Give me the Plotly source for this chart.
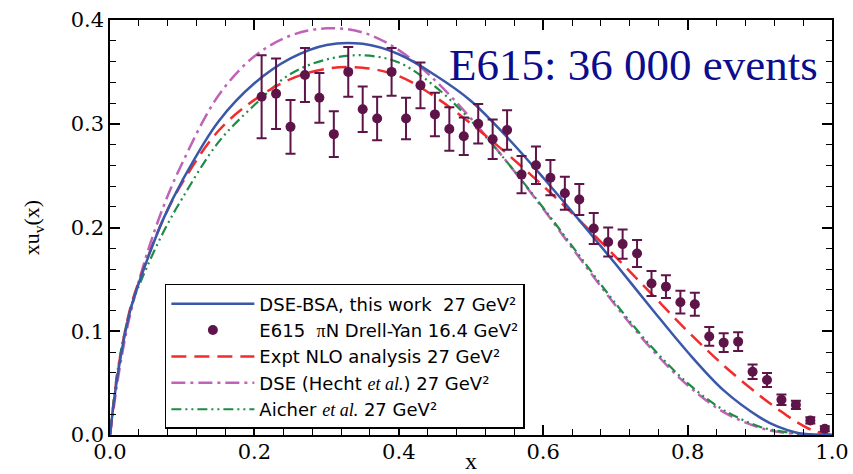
import plotly.graph_objects as go

# ---- E615 data points ----
x_data = [0.21, 0.23, 0.25, 0.27, 0.29, 0.31, 0.33, 0.35, 0.37, 0.39,
          0.41, 0.43, 0.45, 0.47, 0.49, 0.51, 0.53, 0.55, 0.57, 0.59,
          0.61, 0.63, 0.65, 0.67, 0.69, 0.71, 0.73, 0.75, 0.77, 0.79,
          0.81, 0.83, 0.85, 0.87, 0.89, 0.91, 0.93, 0.95, 0.97, 0.99]
y_data = [0.326, 0.329, 0.297, 0.347, 0.325, 0.290, 0.350, 0.314, 0.305, 0.350,
          0.305, 0.337, 0.309, 0.295, 0.288, 0.300, 0.285, 0.294, 0.251, 0.260,
          0.248, 0.233, 0.227, 0.199, 0.186, 0.184, 0.175, 0.146, 0.143, 0.128,
          0.126, 0.095, 0.089, 0.090, 0.061, 0.053, 0.034, 0.029, 0.014, 0.006]
err_data = [0.040, 0.034, 0.026, 0.026, 0.024, 0.022, 0.024, 0.022, 0.021, 0.023,
            0.020, 0.022, 0.021, 0.021, 0.018, 0.019, 0.019, 0.019, 0.018, 0.018,
            0.017, 0.016, 0.015, 0.015, 0.014, 0.014, 0.013, 0.012, 0.011, 0.011,
            0.011, 0.009, 0.009, 0.009, 0.007, 0.0067, 0.005, 0.004, 0.003, 0.0025]

# ---- curves ----
x_curve = [0.0, 0.005, 0.01, 0.02, 0.03, 0.05, 0.075, 0.1, 0.15, 0.2, 0.25, 0.3,
           0.35, 0.4, 0.45, 0.5, 0.55, 0.6, 0.65, 0.7, 0.75, 0.8, 0.85, 0.9,
           0.925, 0.95, 0.975, 1.0]
y_dse_bsa = [0.0, 0.030, 0.055, 0.095, 0.125, 0.166, 0.210, 0.245, 0.302, 0.339, 0.363, 0.376,
             0.377, 0.367, 0.347, 0.322, 0.287, 0.248, 0.207, 0.165, 0.122, 0.080, 0.043, 0.017,
             0.008, 0.0025, 0.0004, 0.0]
y_nlo = [0.0, 0.030, 0.058, 0.097, 0.127, 0.167, 0.210, 0.243, 0.293, 0.323, 0.343, 0.353,
         0.354, 0.346, 0.326, 0.300, 0.271, 0.240, 0.207, 0.172, 0.136, 0.100, 0.067, 0.038,
         0.025, 0.013, 0.004, 0.0]
y_hecht = [0.0, 0.025, 0.050, 0.090, 0.122, 0.172, 0.222, 0.262, 0.327, 0.365, 0.385, 0.392,
           0.388, 0.371, 0.342, 0.305, 0.263, 0.218, 0.171, 0.125, 0.083, 0.048, 0.022, 0.007,
           0.003, 0.001, 0.0002, 0.0]
y_aicher = [0.0, 0.033, 0.060, 0.098, 0.125, 0.160, 0.197, 0.228, 0.282, 0.318, 0.348, 0.362,
            0.366, 0.359, 0.336, 0.303, 0.263, 0.219, 0.173, 0.127, 0.085, 0.050, 0.024, 0.008,
            0.004, 0.0015, 0.0003, 0.0]

x_ticks = [0.0, 0.2, 0.4, 0.6, 0.8, 1.0]
y_ticks = [0.0, 0.1, 0.2, 0.3, 0.4]

SERIF_I = "<span style='font-family:Liberation Serif'><i>et al.</i></span>"

fig = go.Figure()

fig.add_trace(go.Scatter(
    x=x_curve, y=y_hecht, mode="lines", line_shape="spline",
    line=dict(color="#c062b8", width=2.5, dash="14px,5px,3px,5px"),
    name="DSE (Hecht " + SERIF_I + ") 27 GeV\u00b2", legendrank=4))
fig.add_trace(go.Scatter(
    x=x_curve, y=y_aicher, mode="lines", line_shape="spline",
    line=dict(color="#1e8c46", width=2.2, dash="10px,4px,2px,4px,2px,4px"),
    name="Aicher " + SERIF_I + " 27 GeV\u00b2", legendrank=5))
fig.add_trace(go.Scatter(
    x=x_curve, y=y_nlo, mode="lines", line_shape="spline",
    line=dict(color="#f02c2c", width=2.5, dash="15px,8px"),
    name="Expt NLO analysis 27 GeV\u00b2", legendrank=3))
fig.add_trace(go.Scatter(
    x=x_curve, y=y_dse_bsa, mode="lines", line_shape="spline",
    line=dict(color="#3a58aa", width=2.5),
    name="DSE-BSA, this work  27 GeV\u00b2", legendrank=1))
fig.add_trace(go.Scatter(
    x=x_data, y=y_data, mode="markers",
    marker=dict(color="#5e1448", size=10, line=dict(width=0)),
    error_y=dict(type="data", array=err_data, color="#5e1448", thickness=2, width=5),
    name="E615  <span style='font-family:Liberation Serif'>\u03c0</span>N Drell-Yan 16.4 GeV\u00b2",
    legendrank=2))

axis_common = dict(
    showline=True, linecolor="black", linewidth=1.5, mirror="ticks",
    ticks="inside", ticklen=10, tickwidth=1.5, tickcolor="black",
    showgrid=False, zeroline=False, automargin=False,
    tickfont=dict(family="DejaVu Serif", size=21, color="black"),
)

fig.update_xaxes(
    range=[0, 1], tickvals=x_ticks, ticktext=[f"{v:.1f}" for v in x_ticks],
    minor=dict(dtick=0.04, tick0=0, ticks="inside", ticklen=6, tickwidth=1.2, tickcolor="black"),
    ticklabelstandoff=-3,
    title=dict(text="x", font=dict(family="Liberation Serif", size=24, color="black"), standoff=0),
    **axis_common)
fig.update_yaxes(
    range=[0, 0.4], tickvals=y_ticks, ticktext=[f"{v:.1f}" for v in y_ticks],
    minor=dict(dtick=0.02, tick0=0, ticks="inside", ticklen=6, tickwidth=1.2, tickcolor="black"),
    title=dict(text="xu<sub>v</sub>(x)", font=dict(family="Liberation Serif", size=22, color="black"), standoff=25),
    **axis_common)

fig.add_annotation(
    text="E615: 36 000 events", xref="paper", yref="paper",
    x=0.725, y=0.8916, xanchor="center", yanchor="middle", showarrow=False,
    font=dict(family="Liberation Serif", size=45, color="#0c0c8c"))

fig.update_layout(
    width=853, height=474,
    margin=dict(l=110, r=21, t=20, b=39, autoexpand=False),
    paper_bgcolor="white", plot_bgcolor="white",
    showlegend=True,
    legend=dict(
        x=0.076, y=0.364, xanchor="left", yanchor="top",
        bgcolor="white", bordercolor="black", borderwidth=1.5,
        font=dict(family="DejaVu Sans", size=18, color="black"),
        itemwidth=83, tracegroupgap=0,
    ),
)

fig.write_html("out.html")
